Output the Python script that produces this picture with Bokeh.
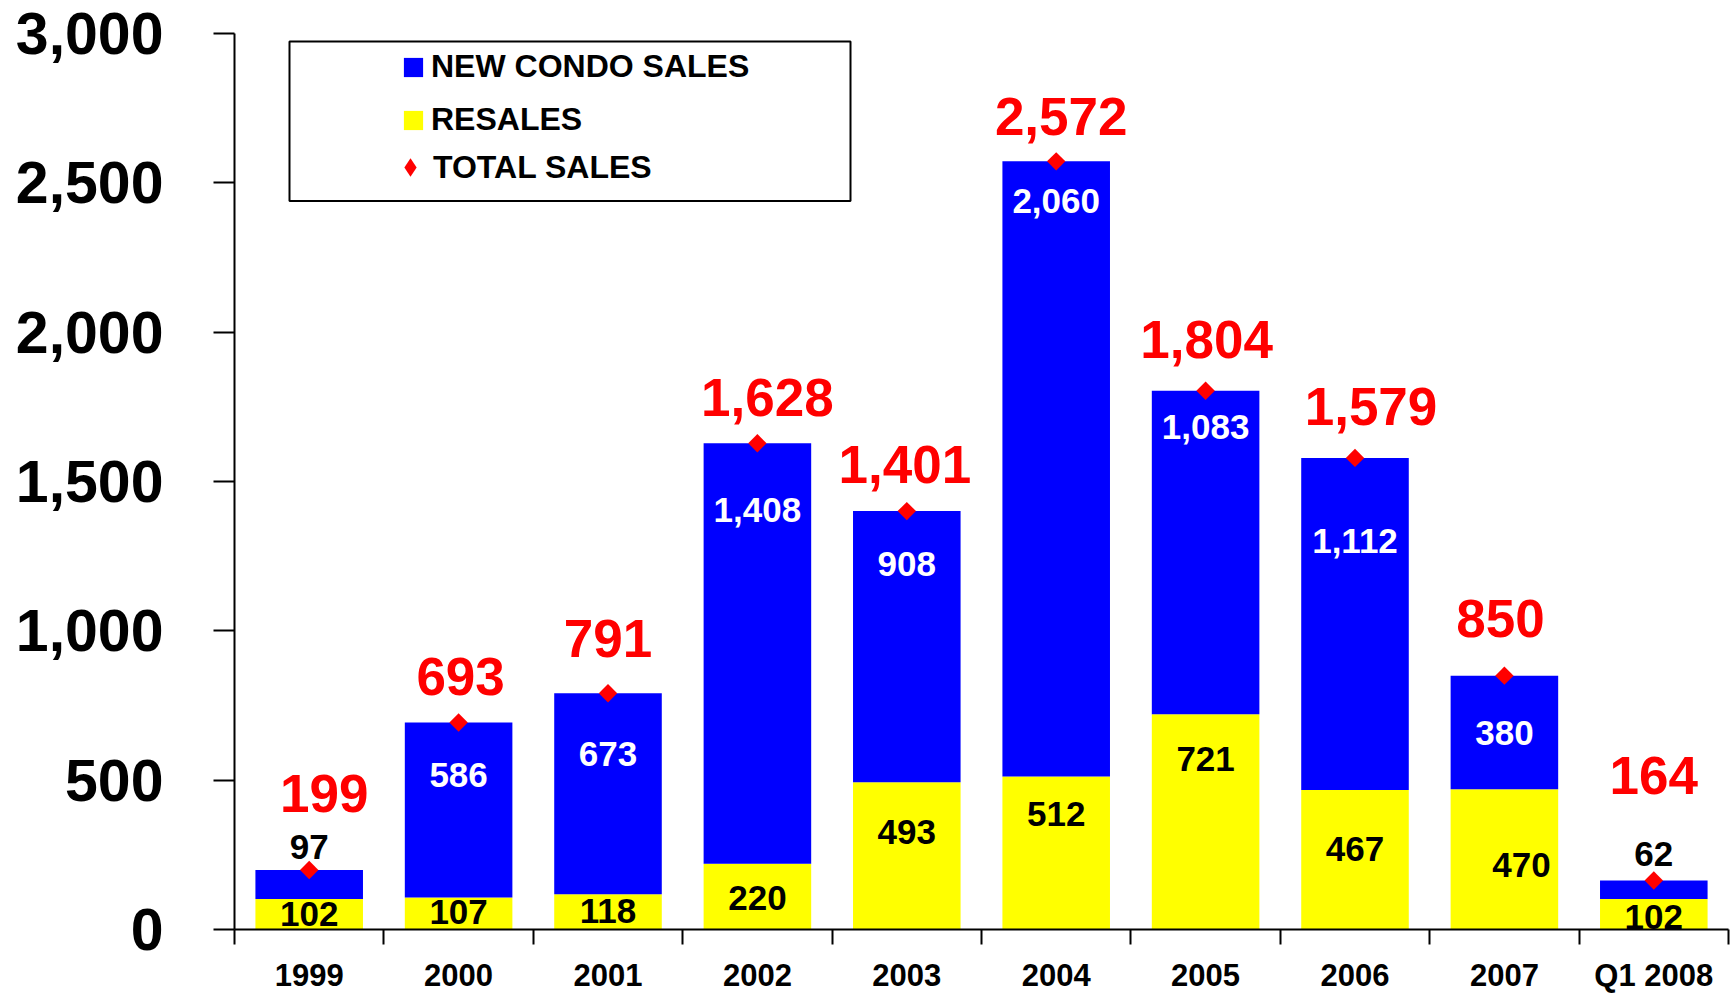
from bokeh.plotting import figure
from bokeh.models import (ColumnDataSource, Range1d, FixedTicker, NumeralTickFormatter,
                          Legend, LegendItem, BoxAnnotation)
from bokeh.core.properties import value
from bokeh.embed import file_html
from bokeh.resources import INLINE
import numpy as np

# ---------------- data ----------------
categories = ["1999", "2000", "2001", "2002", "2003", "2004", "2005", "2006", "2007", "Q1 2008"]
new_condo_sales = [97, 586, 673, 1408, 908, 2060, 1083, 1112, 380, 62]
resales = [102, 107, 118, 220, 493, 512, 721, 467, 470, 102]
total_sales = [199, 693, 791, 1628, 1401, 2572, 1804, 1579, 850, 164]
y_ticks = [0, 500, 1000, 1500, 2000, 2500, 3000]

# label placement tweaks (screen pixels, + = up / right)
new_label_dy = [23, -52, -61, -67, -53, -40, -36, -83, -57, 27]
resale_label_dy = [-15, -14, -17, -34, -50, -37, -45, -59, -76, -18]
resale_label_dx = [0, 0, 0, 0, 0, 0, 0, 0, 17, 0]
total_label_dy = [77, 46, 55, 46, 47, 45, 51, 51, 57, 105]
total_label_dx = [15, 2, 0, 10, -2, 5, 1, 16, -4, 0]

# ---------------- layout ----------------
FONT = "Liberation Sans"
W, H = 1730, 995
BL, BT, BR, BB = 234, 33, 2, 63
FRAME_W = W - BL - BR
FRAME_H = H - BT - BB
NCAT = len(categories)
YMAX = 3000

BLUE = "#0000FF"
YELLOW = "#FFFF00"
RED = "#FF0000"

xs = [i + 0.5 for i in range(NCAT)]

p = figure(width=W, height=H, output_backend="svg", toolbar_location=None,
           x_range=Range1d(0, NCAT), y_range=Range1d(0, YMAX),
           min_border_left=BL, min_border_top=BT, min_border_right=BR, min_border_bottom=BB)
p.outline_line_color = None
p.xgrid.visible = False
p.ygrid.visible = False
p.background_fill_color = "white"
p.border_fill_color = "white"

src = ColumnDataSource(dict(
    x=xs, cat=categories, new=new_condo_sales, res=resales, tot=total_sales,
    new_top=[r + n for r, n in zip(resales, new_condo_sales)],
))

r_res = p.vbar(x="x", width=0.72, bottom=0, top="res", source=src,
               fill_color=YELLOW, line_color=None)
r_new = p.vbar(x="x", width=0.72, bottom="res", top="new_top", source=src,
               fill_color=BLUE, line_color=None)
r_tot = p.scatter(x="x", y="tot", source=src, marker="square", angle=np.pi / 4,
                  size=13, fill_color=RED, line_color=None)
# legend swatch for the total series (zero-size on the plot; the legend sizes it itself)
r_tot_leg = p.scatter(x="x", y="tot", source=src, marker="diamond", size=0,
                      fill_color=RED, line_color=None)

# ---- value labels ----
new_lab = ColumnDataSource(dict(
    x=xs, y=total_sales, text=[f"{v:,}" for v in new_condo_sales],
    dy=[-d for d in new_label_dy],
    color=["black" if d > 0 else "white" for d in new_label_dy],
))
p.text(x="x", y="y", text="text", source=new_lab, y_offset="dy",
       text_color="color", text_font=value(FONT), text_font_style="bold",
       text_font_size="35px", text_align="center", text_baseline="middle")

res_lab = ColumnDataSource(dict(
    x=xs, y=resales, text=[f"{v:,}" for v in resales],
    dy=[-d for d in resale_label_dy], dx=resale_label_dx,
))
p.text(x="x", y="y", text="text", source=res_lab, y_offset="dy", x_offset="dx",
       text_color="black", text_font=value(FONT), text_font_style="bold",
       text_font_size="35px", text_align="center", text_baseline="middle")

tot_lab = ColumnDataSource(dict(
    x=xs, y=total_sales, text=[f"{v:,}" for v in total_sales],
    dy=[-d for d in total_label_dy], dx=total_label_dx,
))
p.text(x="x", y="y", text="text", source=tot_lab, y_offset="dy", x_offset="dx",
       text_color=RED, text_font=value(FONT), text_font_style="bold",
       text_font_size="53px", text_align="center", text_baseline="middle")

# ---- axes ----
yax = p.yaxis[0]
yax.ticker = FixedTicker(ticks=y_ticks)
yax.formatter = NumeralTickFormatter(format="0,0")
yax.major_tick_in = 0
yax.major_tick_out = 21
yax.minor_tick_line_color = None
yax.axis_line_width = 2
yax.major_tick_line_width = 2
yax.axis_line_color = "black"
yax.major_tick_line_color = "black"
yax.major_label_standoff = 50
yax.major_label_text_font = FONT
yax.major_label_text_font_style = "bold"
yax.major_label_text_font_size = "59px"
yax.major_label_text_color = "black"

xax = p.xaxis[0]
xax.ticker = FixedTicker(ticks=xs, minor_ticks=list(range(NCAT + 1)))
xax.major_label_overrides = {x: c for x, c in zip(xs, categories)}
xax.major_tick_line_color = None
xax.major_tick_in = 0
xax.major_tick_out = 0
xax.minor_tick_in = 0
xax.minor_tick_out = 15
xax.minor_tick_line_width = 2
xax.minor_tick_line_color = "black"
xax.axis_line_width = 2
xax.axis_line_color = "black"
xax.major_label_standoff = 13
xax.major_label_text_font = FONT
xax.major_label_text_font_style = "bold"
xax.major_label_text_font_size = "31px"
xax.major_label_text_color = "black"

# ---- legend ----
# legend frame in screen px (relative to frame top-left), converted to data units
LBOX_L, LBOX_R, LBOX_T, LBOX_B = 55, 616, 8, 168
px_x = FRAME_W / NCAT
px_y = FRAME_H / YMAX
p.add_layout(BoxAnnotation(left=LBOX_L / px_x, right=LBOX_R / px_x,
                           top=YMAX - LBOX_T / px_y, bottom=YMAX - LBOX_B / px_y,
                           fill_alpha=0, line_color="black", line_alpha=1.0, line_width=2))

leg_kw = dict(margin=0, padding=0, label_text_font=FONT, label_text_font_style="bold",
              label_text_font_size="32px", label_text_color="black",
              border_line_alpha=0, background_fill_alpha=0)
legend_bars = Legend(items=[
    LegendItem(label="NEW CONDO SALES", renderers=[r_new]),
    LegendItem(label="RESALES", renderers=[r_res]),
], location=(167, FRAME_H - 108), spacing=16, glyph_width=24, glyph_height=24,
    label_standoff=6, **leg_kw)
legend_tot = Legend(items=[
    LegendItem(label="TOTAL SALES", renderers=[r_tot_leg]),
], location=(153, FRAME_H - 160), glyph_width=46, glyph_height=46,
    label_standoff=0, **leg_kw)
p.add_layout(legend_bars)
p.add_layout(legend_tot)

open("out.html", "w").write(file_html(p, INLINE))
